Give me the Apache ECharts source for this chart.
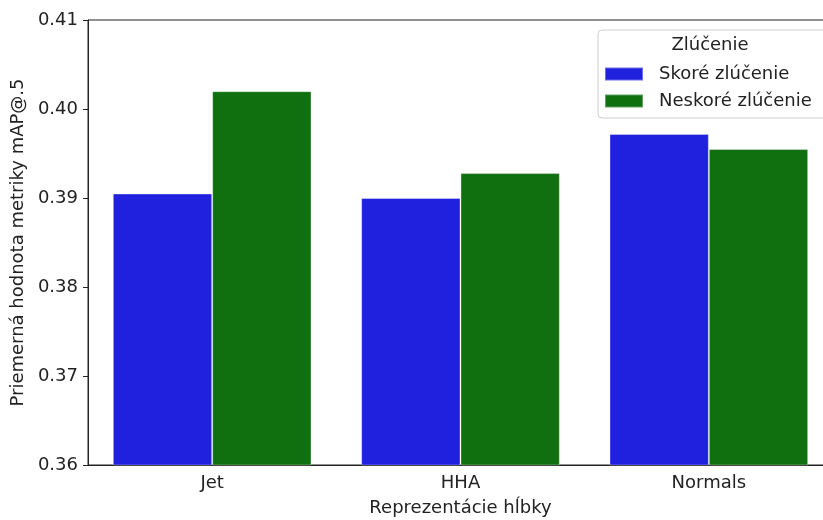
<!DOCTYPE html>
<html><head><meta charset="utf-8">
<script src="https://cdn.jsdelivr.net/npm/echarts@6/dist/echarts.min.js"></script>
<style>html,body{margin:0;padding:0;background:#fff}#c{width:823px;height:520px}</style>
</head><body><div id="c"></div>
<script>
const categories = ['Jet', 'HHA', 'Normals'];
const earlyFusion = [0.3905, 0.3900, 0.3972];
const lateFusion = [0.4020, 0.3928, 0.3955];
const yTicks = [0.36, 0.37, 0.38, 0.39, 0.40, 0.41];
const seriesNames = ['Skoré zlúčenie', 'Neskoré zlúčenie'];
const legendTitle = 'Zlúčenie';

const font = 'DejaVu Sans';
const fs = 18;
const chart = echarts.init(document.getElementById('c'), null, {renderer: 'canvas'});
chart.setOption({
  animation: false,
  textStyle: {fontFamily: font},
  grid: {left: 88, top: 20, bottom: 55, width: 745, outerBoundsMode: 'none', containLabel: false,
         show: true, borderColor: '#222', borderWidth: 1, backgroundColor: 'transparent'},
  xAxis: {
    type: 'category', data: categories,
    name: 'Reprezentácie hĺbky', nameLocation: 'middle', nameGap: 34,
    nameTextStyle: {fontSize: fs, color: '#222', fontFamily: font},
    axisLine: {lineStyle: {color: '#222', width: 1}},
    axisTick: {alignWithLabel: true, length: 5, lineStyle: {color: '#222'}},
    axisLabel: {fontSize: fs, color: '#222', margin: 9, fontFamily: font}
  },
  yAxis: {
    type: 'value', min: yTicks[0], max: yTicks[yTicks.length - 1], interval: 0.01,
    name: 'Priemerná hodnota metriky mAP@.5', nameLocation: 'middle', nameGap: 60,
    nameTextStyle: {fontSize: fs, color: '#222', fontFamily: font},
    splitLine: {show: false},
    axisLine: {show: true, lineStyle: {color: '#222', width: 1}},
    axisTick: {show: true, length: 5, lineStyle: {color: '#222'}},
    axisLabel: {fontSize: fs, color: '#222', margin: 10, fontFamily: font,
      formatter: v => v.toFixed(2)}
  },
  legend: {
    orient: 'vertical', left: 598, top: 30,
    padding: [35, 20, 8, 6], itemGap: 9,
    itemWidth: 38, itemHeight: 13,
    backgroundColor: '#fff', borderColor: '#ccc', borderWidth: 1, borderRadius: 4,
    textStyle: {fontSize: fs, color: '#222', fontFamily: font, padding: [0, 0, 0, 11]},
    icon: 'rect',
    data: seriesNames
  },
  graphic: [{
    type: 'text', x: 710, y: 45, z: 100,
    style: {text: legendTitle, fontSize: fs, fill: '#222', fontFamily: font, align: 'center', verticalAlign: 'middle'}
  }],
  series: [
    {name: seriesNames[0], type: 'bar', data: earlyFusion, barGap: '0%', barCategoryGap: '20%',
     itemStyle: {color: '#2020df', borderColor: 'rgba(255,255,255,0.35)', borderWidth: 1}},
    {name: seriesNames[1], type: 'bar', data: lateFusion,
     itemStyle: {color: '#107010', borderColor: 'rgba(255,255,255,0.35)', borderWidth: 1}}
  ]
});
</script></body></html>
